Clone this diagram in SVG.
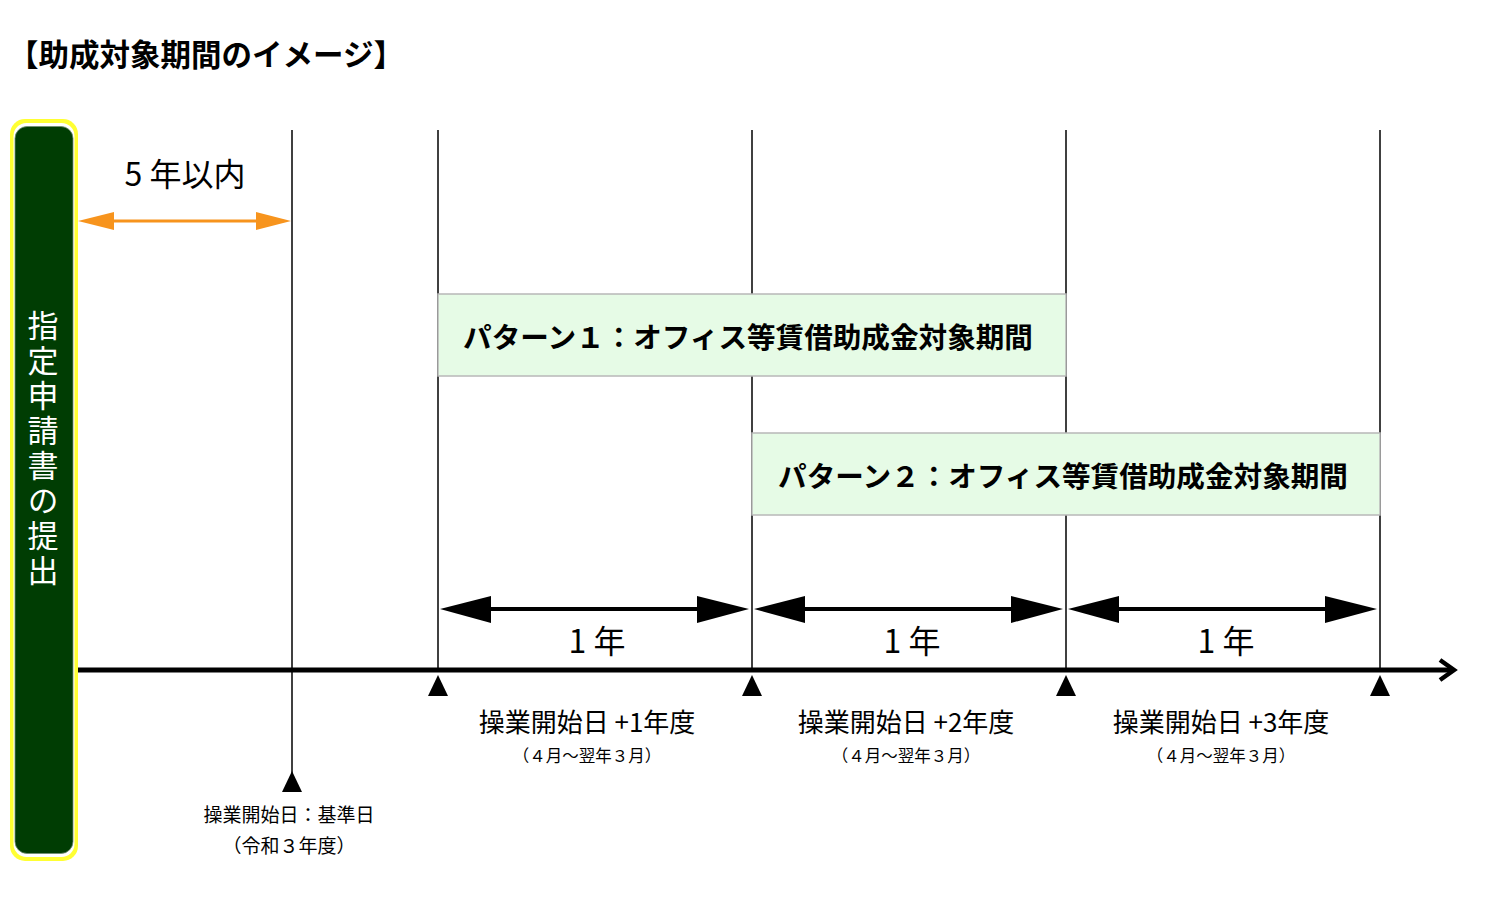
<svg xmlns="http://www.w3.org/2000/svg" width="1508" height="917" viewBox="0 0 1508 917">
<style>
  text { font-family: "Noto Sans CJK JP", "Noto Sans", sans-serif; fill: #000; }
  .b { font-weight: bold; }
  .vl { stroke: #000; stroke-width: 1.5; fill: none; }
  .box { fill: #E6FBE6; stroke: #B8B8B8; stroke-width: 1.5; }
  .tri { fill: #000; }
  .dbl { stroke: #000; stroke-width: 4; fill: none; }
  .c { text-anchor: middle; }
  text.w { fill: #fff; }
</style>
<rect width="1508" height="917" fill="#fff"/>
<g id="title">
  <text class="b" x="8" y="66" font-size="30.5">【助成対象期間のイメージ】</text>
</g>
<g id="submission">
  <rect x="10" y="119" width="68" height="742" rx="15" fill="#FFFF33"/>
  <rect x="13.5" y="123" width="61" height="734" rx="13" fill="#fff"/>
  <rect x="15" y="126.5" width="58" height="727" rx="12" fill="#003D03" stroke="#6E8C6E" stroke-width="0.8"/>
  <text class="w" x="43" y="310" font-size="31" writing-mode="vertical-rl" letter-spacing="4">指定申請書の提出</text>
</g>
<g id="connectors">
  <line class="vl" x1="292" y1="130" x2="292" y2="776"/>
  <line class="vl" x1="438" y1="130" x2="438" y2="672"/>
  <line class="vl" x1="752" y1="130" x2="752" y2="672"/>
  <line class="vl" x1="1066" y1="130" x2="1066" y2="672"/>
  <line class="vl" x1="1380" y1="130" x2="1380" y2="672"/>
  <line x1="110" y1="221" x2="260" y2="221" stroke="#F7941D" stroke-width="3"/>
  <polygon points="78,221 114,212 114,230" fill="#F7941D"/>
  <polygon points="291,221 256,212 256,230" fill="#F7941D"/>
  <line class="dbl" x1="485" y1="609" x2="702" y2="609"/>
  <polygon class="tri" points="440,609 491,596 491,623"/>
  <polygon class="tri" points="749,609 697,596 697,623"/>
  <line class="dbl" x1="799" y1="609" x2="1016" y2="609"/>
  <polygon class="tri" points="754,609 805,596 805,623"/>
  <polygon class="tri" points="1063,609 1011,596 1011,623"/>
  <line class="dbl" x1="1113" y1="609" x2="1330" y2="609"/>
  <polygon class="tri" points="1068,609 1119,596 1119,623"/>
  <polygon class="tri" points="1377,609 1325,596 1325,623"/>
  <line x1="78" y1="670" x2="1452" y2="670" stroke="#000" stroke-width="5"/>
  <polyline points="1440,660 1454,670 1440,680" fill="none" stroke="#000" stroke-width="4.5"/>
  <polygon class="tri" points="438,675 428,696 448,696"/>
  <polygon class="tri" points="752,675 742,696 762,696"/>
  <polygon class="tri" points="1066,675 1056,696 1076,696"/>
  <polygon class="tri" points="1380,675 1370,696 1390,696"/>
  <polygon class="tri" points="292,771 282,792 302,792"/>
</g>
<g id="label-5years">
  <text x="185" y="186" font-size="32" class="c">5 年以内</text>
</g>
<g id="pattern1">
  <rect class="box" x="438" y="294" width="628" height="82"/>
  <text class="b c" x="748" y="348" font-size="28.6">パターン１：オフィス等賃借助成金対象期間</text>
</g>
<g id="pattern2">
  <rect class="box" x="752" y="433" width="628" height="82"/>
  <text class="b c" x="1063" y="487" font-size="28.6">パターン２：オフィス等賃借助成金対象期間</text>
</g>
<g id="year-labels">
  <text class="c" x="597" y="653" font-size="32">1 年</text>
  <text class="c" x="912" y="653" font-size="32">1 年</text>
  <text class="c" x="1226" y="653" font-size="32">1 年</text>
</g>
<g id="base-label">
  <text class="c" x="289" y="822" font-size="19">操業開始日：基準日</text>
  <text class="c" x="289" y="853" font-size="19">（令和３年度）</text>
</g>
<g id="fy1">
  <text class="c" x="587" y="732" font-size="26">操業開始日 +1年度</text>
  <text class="c" x="587" y="762" font-size="16.5">（４月～翌年３月）</text>
</g>
<g id="fy2">
  <text class="c" x="906" y="732" font-size="26">操業開始日 +2年度</text>
  <text class="c" x="906" y="762" font-size="16.5">（４月～翌年３月）</text>
</g>
<g id="fy3">
  <text class="c" x="1221" y="732" font-size="26">操業開始日 +3年度</text>
  <text class="c" x="1221" y="762" font-size="16.5">（４月～翌年３月）</text>
</g>
</svg>
